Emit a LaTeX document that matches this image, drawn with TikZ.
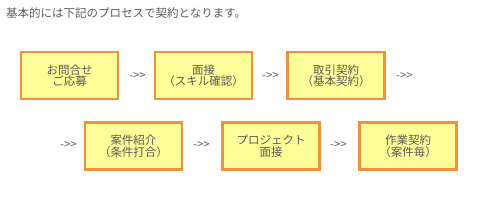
\documentclass[tikz,border=0pt]{standalone}
\usepackage{fontspec}
\setmainfont{Noto Sans CJK JP}
\usepackage{tikz}
\definecolor{boxfill}{HTML}{FFFF99}
\definecolor{boxline}{HTML}{F0903C}
\definecolor{txtgray}{HTML}{5A5A5A}

\begin{document}
\begin{tikzpicture}[x=1pt,y=-1pt,
  procbox/.style={draw=boxline,fill=boxfill,line width=2.4pt,minimum width=97pt,minimum height=47pt,inner sep=0pt,align=center,text=txtgray,font=\fontsize{11.5}{11.5}\selectfont},
  arrtxt/.style={text=txtgray,inner sep=0pt,font=\fontsize{11.5}{11.5}\selectfont}]
\useasboundingbox (0,0) rectangle (480,219);
\node[anchor=west,text=txtgray,inner sep=0pt,font=\fontsize{11.5}{12}\selectfont] (title) at (6,13) {基本的には下記のプロセスで契約となります。};
\foreach \i/\x/\y/\t in %
{1/69.5/75.5/{お問合せ\\ご応募},2/203.5/75.5/{面接\\（スキル確認）},3/336/75.5/{取引契約\\（基本契約）},
 4/133.5/146/{案件紹介\\（条件打合）},5/271/146/{プロジェクト\\面接},6/408/146/{作業契約\\（案件毎）}} {
   \node[procbox] (b\i) at (\x,\y) {\t};
}
\foreach \i/\x/\y in %
{1/137.5/76,2/270.5/76,3/404.5/76,4/68.5/145,5/201.5/145,6/338.5/145} {
   \node[arrtxt] (a\i) at (\x,\y) {-{>}{>}};
}
\end{tikzpicture}
\end{document}
